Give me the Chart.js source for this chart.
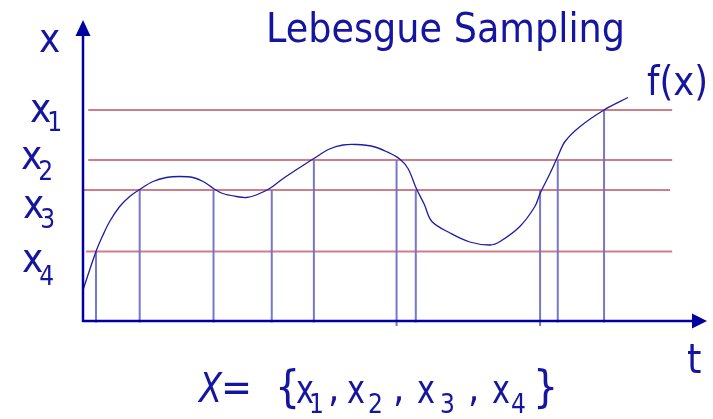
<!DOCTYPE html>
<html>
<head>
<meta charset="utf-8">
<title>Lebesgue Sampling</title>
<script src="https://cdn.jsdelivr.net/npm/chart.js@4.4.0/dist/chart.umd.min.js"></script>
<style>
    html, body { margin: 0; padding: 0; background: #fff; }
    #grafico { display: block; }
</style>
</head>
<body>
<canvas id="grafico" width="713" height="419"></canvas>
<script>
// curve f(x): time t and value x
const curveT = [0, 0.25, 0.385, 0.513, 0.706, 0.898, 1.09, 1.346, 1.60, 1.86, 2.115, 2.31, 2.51, 2.69, 2.95, 3.14, 3.33, 3.59,
    3.85, 4.17, 4.44, 4.74, 5.0, 5.26, 5.58, 5.83, 6.09, 6.25, 6.41, 6.56, 6.71, 7.06, 7.44, 7.83, 8.02, 8.40, 8.69, 8.79,
    8.98, 9.13, 9.27, 9.56, 10.02, 10.48];
const curveX = [0.62, 1.39, 1.72, 1.99, 2.29, 2.49, 2.63, 2.79, 2.87, 2.89, 2.87, 2.79, 2.65, 2.55, 2.49, 2.47, 2.52, 2.65,
    2.85, 3.07, 3.25, 3.44, 3.52, 3.53, 3.49, 3.39, 3.24, 3.05, 2.65, 2.34, 1.99, 1.76, 1.58, 1.52, 1.59, 1.89, 2.29, 2.55,
    2.95, 3.29, 3.59, 3.89, 4.22, 4.47];

// levels x1..x4
const levelSubs = ['1', '2', '3', '4'];
const levelValues = [4.22, 3.22, 2.62, 1.39];
const levelStart = [0.10, 0.10, 0.0, 0.06];
const levelEnd = [11.33, 11.33, 11.29, 11.33];

// sampling instants (level crossings) and which level was crossed
const sampleT = [0.25, 1.09, 2.51, 3.63, 4.44, 6.03, 6.40, 8.79, 9.13, 10.02];
const sampleLevel = [3, 2, 2, 2, 1, 1, 2, 2, 1, 0];
const sampleBottom = [-0.03, -0.03, -0.03, -0.03, -0.03, -0.1, -0.03, -0.1, -0.03, -0.03];

const FONT = '"DejaVu Sans Condensed", "Liberation Sans", sans-serif';
const TEXT_COLOR = '#15159f';
const AXIS_COLOR = '#0000a0';

document.addEventListener("DOMContentLoaded", function () {
    const ctx = document.getElementById('grafico').getContext('2d');

    const datasets = [];

    // the curve (drawn on top)
    datasets.push({
        data: curveT.map((t, i) => ({ x: t, y: curveX[i] })),
        borderColor: '#1c1ca8',
        borderWidth: 1.3,
        tension: 0.35,
        pointRadius: 0,
        clip: false
    });

    // vertical sample lines
    sampleT.forEach((t, i) => {
        datasets.push({
            data: [{ x: t, y: levelValues[sampleLevel[i]] }, { x: t, y: sampleBottom[i] }],
            borderColor: 'rgba(112,112,200,0.95)',
            borderWidth: 2,
            pointRadius: 0,
            clip: false
        });
    });

    // horizontal levels
    levelValues.forEach((v, i) => {
        datasets.push({
            data: [{ x: levelStart[i], y: v }, { x: levelEnd[i], y: v }],
            borderColor: 'rgba(205,118,132,0.95)',
            borderWidth: 2,
            pointRadius: 0,
            clip: false
        });
    });

    // text helper: draw text, optionally stretched to a width
    function texto(c, str, x, y, size, opts) {
        opts = opts || {};
        c.save();
        c.font = (opts.italic ? 'italic ' : '') + size + 'px ' + FONT;
        c.fillStyle = TEXT_COLOR;
        c.textAlign = 'left';
        c.textBaseline = 'alphabetic';
        let sx = 1;
        if (opts.width) {
            sx = opts.width / c.measureText(str).width;
        }
        c.translate(x, y);
        c.scale(sx, 1);
        c.fillText(str, 0, 0);
        const w = c.measureText(str).width * sx;
        c.restore();
        return w;
    }

    // x with subscript
    function comIndice(c, sub, x, y, dy) {
        const w = texto(c, 'x', x, y, 40);
        texto(c, sub, x + w - 4, y + dy, 26);
    }

    const desenhos = {
        id: 'desenhos',
        afterDatasetsDraw(chart) {
            const c = chart.ctx;
            const sx = chart.scales.x, sy = chart.scales.y;
            const x0 = sx.getPixelForValue(0);
            const y0 = sy.getPixelForValue(0);
            const xMax = sx.getPixelForValue(sx.max);
            const yMax = sy.getPixelForValue(sy.max);

            // axes with arrows
            c.save();
            c.strokeStyle = AXIS_COLOR;
            c.fillStyle = AXIS_COLOR;
            c.lineWidth = 2.5;
            c.beginPath();
            c.moveTo(x0, y0 + 1);
            c.lineTo(x0, yMax + 14);
            c.moveTo(x0 - 1, y0);
            c.lineTo(xMax - 14, y0);
            c.stroke();
            c.beginPath();
            c.moveTo(x0, yMax - 1);
            c.lineTo(x0 - 7.5, yMax + 15);
            c.lineTo(x0 + 7.5, yMax + 15);
            c.closePath();
            c.fill();
            c.beginPath();
            c.moveTo(xMax, y0);
            c.lineTo(xMax - 15, y0 - 7.5);
            c.lineTo(xMax - 15, y0 + 7.5);
            c.closePath();
            c.fill();
            c.restore();

            // title and axis names
            texto(c, 'Lebesgue Sampling', 266, 42, 41, { width: 359 });
            texto(c, 'x', 39, 52, 40);
            texto(c, 'f(x)', 647, 95, 41, { width: 61 });
            texto(c, 't', 687, 373, 41);

            // level labels
            const labelX = [30, 21, 23, 22];
            const labelY = [122, 169, 218, 272];
            const subDy = [9, 11, 10, 13];
            levelSubs.forEach((s, i) => {
                comIndice(c, s, labelX[i], labelY[i], subDy[i]);
            });

            // formula below: X = {x1, x2, x3 , x4}
            texto(c, 'X', 199, 402, 40, { italic: true, width: 23 });
            texto(c, '=', 221, 401, 40, { width: 31 });
            texto(c, '{', 275, 402, 44);
            const fx = [296, 347, 417, 492];
            const fsub = [309, 368, 440, 511];
            levelSubs.forEach((s, i) => {
                texto(c, 'x', fx[i], 403, 40, { width: 18 });
                texto(c, s, fsub[i], 413, 26);
            });
            texto(c, ',', 328, 401, 40);
            texto(c, ',', 393, 401, 40);
            texto(c, ',', 468, 401, 40);
            texto(c, '}', 533, 402, 44);
        }
    };

    new Chart(ctx, {
        type: 'line',
        data: { datasets: datasets },
        options: {
            responsive: false,
            animation: false,
            events: [],
            layout: { padding: { left: 83, right: 6, top: 21, bottom: 98 } },
            plugins: {
                legend: { display: false },
                tooltip: { enabled: false },
                title: { display: false }
            },
            scales: {
                x: { type: 'linear', min: 0, max: 12, display: false },
                y: { type: 'linear', min: 0, max: 6, display: false }
            }
        },
        plugins: [desenhos]
    });
});
</script>
</body>
</html>
